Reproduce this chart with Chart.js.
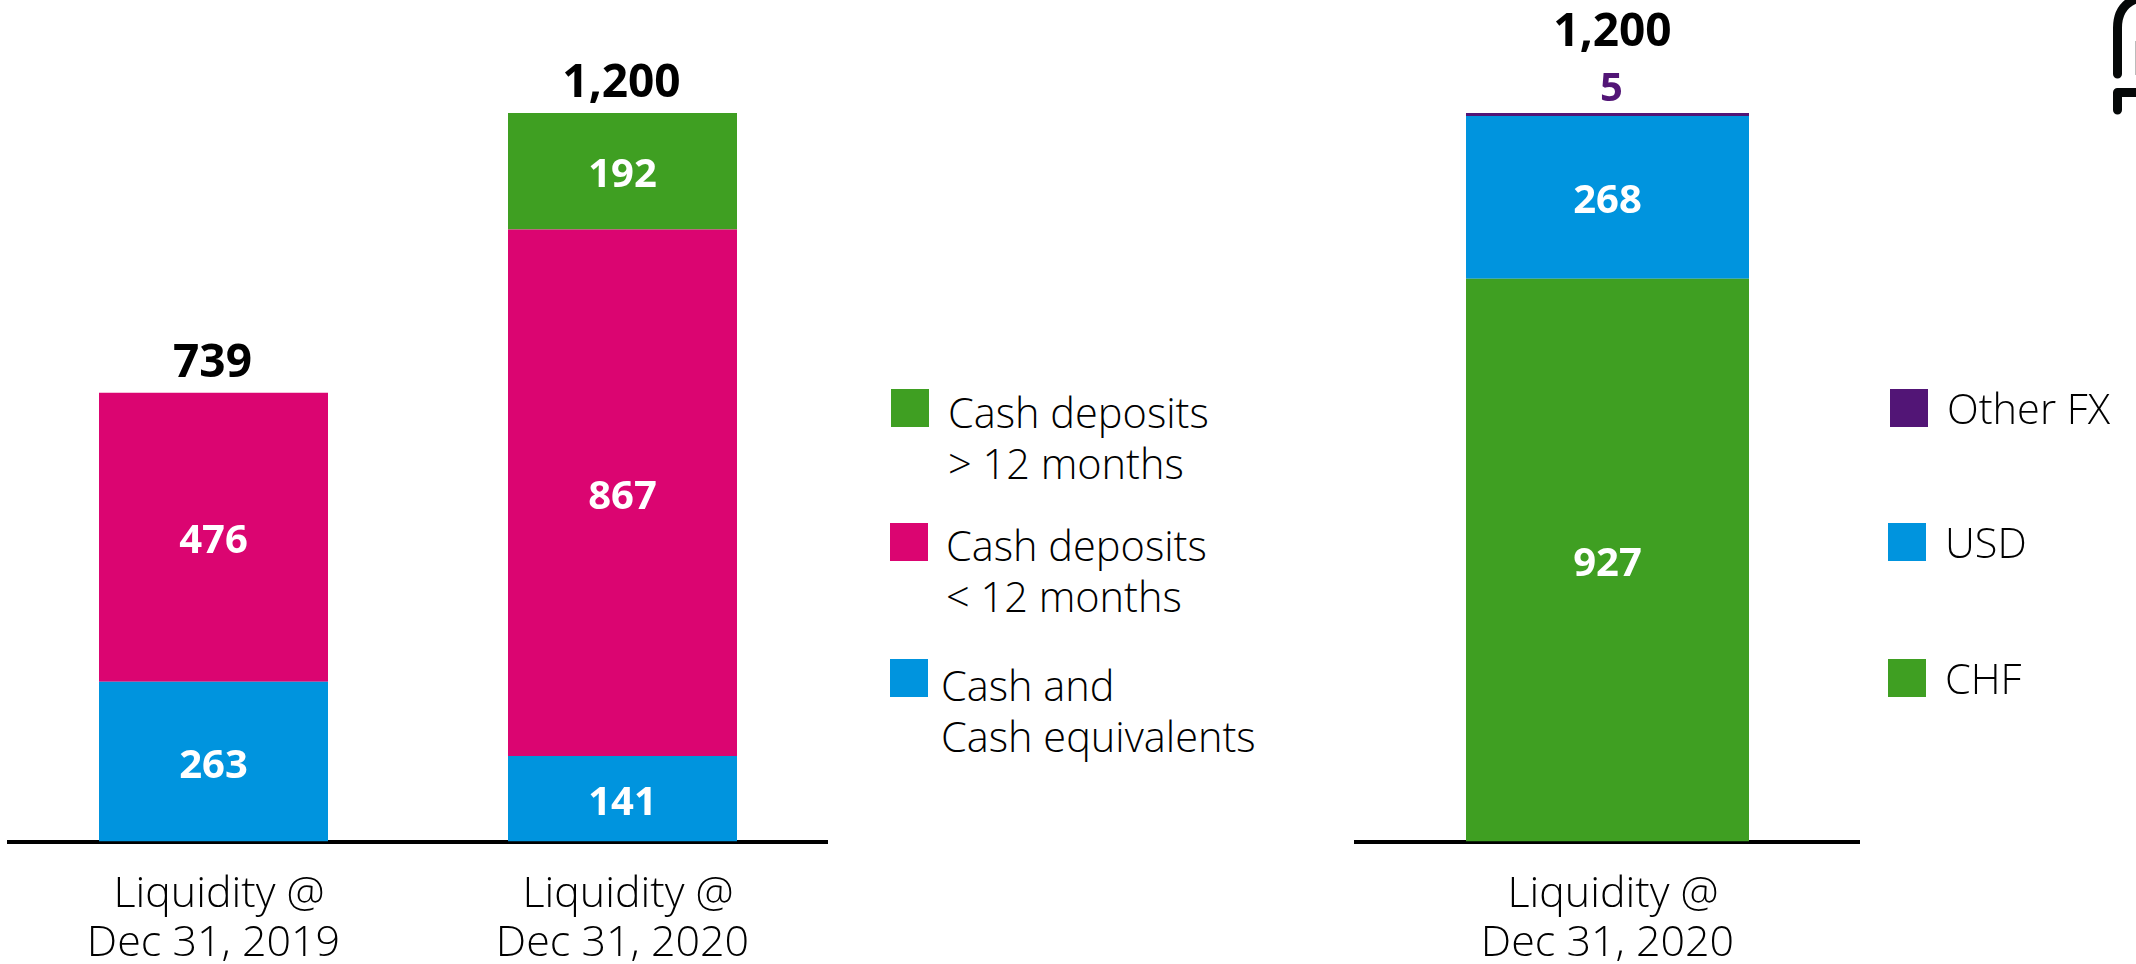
<!DOCTYPE html>
<html>
<head>
<meta charset="utf-8">
<title>Liquidity</title>
<script src="https://cdn.jsdelivr.net/npm/chart.js@4"></script>
<style>
html,body{margin:0;padding:0;background:#fff;width:2136px;height:964px;overflow:hidden;}
body{position:relative;font-family:"Open Sans",sans-serif;}
canvas{position:absolute;top:0;}
#chartLeft{left:0;}
#chartRight{left:1300px;}
.sw{position:absolute;width:38px;height:38px;}
.lg{position:absolute;font-weight:300;font-size:41.5px;line-height:51px;color:#000;white-space:pre;}
#clip{position:absolute;left:2096px;top:0;}
</style>
</head>
<body>
<canvas id="chartLeft" width="860" height="964"></canvas>
<canvas id="chartRight" width="700" height="964"></canvas>
<div id="legends"></div>
<svg id="clip" width="40" height="125"><path d="M21.5 74 V28 Q21.5 6 40 -1" fill="none" stroke="#050808" stroke-width="9" stroke-linecap="round"/><path d="M21.5 110 V92.5 H44" fill="none" stroke="#050808" stroke-width="9" stroke-linecap="round" stroke-linejoin="round"/><path d="M39.5 41 V75" stroke="#bbb" stroke-width="1"/></svg>
<script>
(function(){
var leftCats = [[" Liquidity @","Dec 31, 2019"],[" Liquidity @","Dec 31, 2020"]];
var cashEq = [263,141];
var under12 = [476,867];
var over12 = [null,192];
var leftTotals = ["739","1,200"];

var rightCats = [[" Liquidity @","Dec 31, 2020"]];
var chf = [927];
var usd = [268];
var otherFx = [5];
var rightTotals = ["1,200"];

var GREEN="#3f9f22", PINK="#db0571", BLUE="#0094de", PURPLE="#521576";
var FONT='"Open Sans", sans-serif';

// numbers inside the bars and totals on top
var barText = {
  id:"barText",
  afterDatasetsDraw:function(chart,args,o){
    var ctx = chart.ctx;
    ctx.save();
    ctx.textAlign="center"; ctx.textBaseline="alphabetic";
    chart.data.datasets.forEach(function(ds,i){
      chart.getDatasetMeta(i).data.forEach(function(bar,j){
        var v = ds.data[j];
        if(v==null) return;
        ctx.font='700 40px '+FONT;
        if(ds.labelAbove){
          ctx.fillStyle=ds.backgroundColor;
          ctx.fillText(String(v),bar.x+4,bar.y-12);
        } else {
          ctx.fillStyle="#fff";
          ctx.fillText(String(v),bar.x,(bar.y+bar.base)/2+16);
        }
      });
    });
    ctx.font='700 46px '+FONT;
    ctx.fillStyle="#000";
    o.totals.forEach(function(t,j){
      var top = chart.scales.y.getPixelForValue(o.sums[j]);
      ctx.fillText(t,chart.getDatasetMeta(0).data[j].x+o.dx,top-o.gap);
    });
    ctx.restore();
  }
};

function makeChart(id,cats,sets,totals,sums,gap,dx,padL,padR){
  return new Chart(document.getElementById(id),{
    type:"bar",
    data:{labels:cats,datasets:sets},
    plugins:[barText],
    options:{
      responsive:false, animation:false,
      layout:{padding:{left:padL,right:padR,top:113,bottom:0}},
      plugins:{legend:{display:false},tooltip:{enabled:false},barText:{totals:totals,sums:sums,gap:gap,dx:dx}},
      datasets:{bar:{categoryPercentage:1,barPercentage:barShare(cats.length,padL,padR,id)}},
      scales:{
        x:{stacked:true,
           grid:{display:false,drawTicks:false},
           border:{display:true,color:"#000",width:4},
           afterFit:function(s){ s.height=122.5; },
           ticks:{color:"#000",padding:29,maxRotation:0,autoSkip:false,font:{family:FONT,size:43,weight:"300",lineHeight:1.14}}},
        y:{stacked:true,display:false,min:0,max:1200}
      }
    }
  });
}
// bars are 229px on the left and 283px on the right in the source
function barShare(n,padL,padR,id){
  var w = document.getElementById(id).width-padL-padR;
  return (id==="chartLeft"?229:283)/(w/n);
}

makeChart("chartLeft",leftCats,[
  {label:"Cash and Cash equivalents",data:cashEq,backgroundColor:BLUE},
  {label:"Cash deposits < 12 months",data:under12,backgroundColor:PINK},
  {label:"Cash deposits > 12 months",data:over12,backgroundColor:GREEN}
],leftTotals,[739,1200],16,-1,9,33);

makeChart("chartRight",rightCats,[
  {label:"CHF",data:chf,backgroundColor:GREEN},
  {label:"USD",data:usd,backgroundColor:BLUE},
  {label:"Other FX",data:otherFx,backgroundColor:PURPLE,labelAbove:true}
],rightTotals,[1200],67,5,56,141);

// hand placed legends, the source slide has them slightly out of line
var legendItems = [
  {c:GREEN,x:891,y:389,tx:948,ty:387,t:"Cash deposits\n> 12 months"},
  {c:PINK,x:890,y:523,tx:946,ty:520,t:"Cash deposits\n< 12 months"},
  {c:BLUE,x:890,y:659,tx:941,ty:660,t:"Cash and\nCash equivalents"},
  {c:PURPLE,x:1890,y:389,tx:1947,ty:383,t:"Other FX"},
  {c:BLUE,x:1888,y:523,tx:1945,ty:517,t:"USD"},
  {c:GREEN,x:1888,y:659,tx:1945,ty:653,t:"CHF"}
];
var wrap = document.getElementById("legends");
legendItems.forEach(function(it){
  var s = document.createElement("div"); s.className="sw";
  s.style.left=it.x+"px"; s.style.top=it.y+"px"; s.style.background=it.c;
  var l = document.createElement("div"); l.className="lg";
  l.style.left=it.tx+"px"; l.style.top=it.ty+"px"; l.textContent=it.t;
  wrap.appendChild(s); wrap.appendChild(l);
});
})();
</script>
</body>
</html>
